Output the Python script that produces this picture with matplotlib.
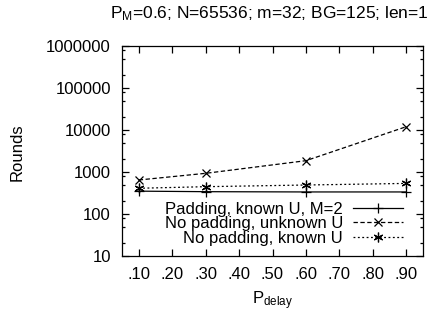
import numpy as np
import matplotlib
matplotlib.use("Agg")
import matplotlib.pyplot as plt
from matplotlib.ticker import FixedLocator, LogLocator, NullFormatter

# data
p_delay = [0.10, 0.30, 0.60, 0.90]
padding_known = [350, 340, 335, 335]
nopad_unknown = [645, 930, 1860, 12000]
nopad_known = [410, 447, 490, 535]

xticks = [0.1, 0.2, 0.3, 0.4, 0.5, 0.6, 0.7, 0.8, 0.9]
xlabels = ['.10', '.20', '.30', '.40', '.50', '.60', '.70', '.80', '.90']
yticks = [10, 100, 1000, 10000, 100000, 1000000]
ylabels = ['10', '100', '1000', '10000', '100000', '1000000']

plt.rcParams['font.family'] = ['Liberation Sans', 'DejaVu Sans']
plt.rcParams['mathtext.fontset'] = 'custom'
plt.rcParams['mathtext.rm'] = 'Liberation Sans'
plt.rcParams['mathtext.it'] = 'Liberation Sans'
fs = 12

fig = plt.figure(figsize=(4.34, 3.11), dpi=100)
ax = fig.add_axes([122/434, 1-256/311, (423-122)/434, (256-46)/311])

ax.plot(p_delay, padding_known, color='black', lw=0.9, marker='+', ms=7, mew=0.9,
        label='Padding, known U, M=2')
ax.plot(p_delay, nopad_unknown, color='black', lw=0.9, dashes=(3.5, 2), marker='x', ms=6, mew=0.9,
        label='No padding, unknown U')
ax.plot(p_delay, nopad_known, color='black', lw=0.9, dashes=(1.5, 2), marker=(6, 2, 0), ms=7, mew=0.9,
        label='No padding, known U')

ax.set_yscale('log')
ax.set_xlim(0.05, 0.95)
ax.set_ylim(10, 1000000)
ax.xaxis.set_major_locator(FixedLocator(xticks))
ax.set_xticklabels(xlabels, fontsize=fs)
ax.yaxis.set_major_locator(FixedLocator(yticks))
ax.set_yticklabels(ylabels, fontsize=fs)
ax.yaxis.set_minor_locator(LogLocator(base=10, subs=[2, 5, 8]))
ax.yaxis.set_minor_formatter(NullFormatter())
ax.tick_params(which='major', direction='in', length=5, width=0.9, top=True, right=True)
ax.tick_params(axis='x', which='major', pad=8)
ax.tick_params(axis='y', which='major', pad=8)
ax.tick_params(which='minor', direction='in', length=2.5, width=0.9, top=True, right=True)
for s in ax.spines.values():
    s.set_linewidth(0.9)

ax.legend(loc='lower right', bbox_to_anchor=(0.934, 0.05), frameon=False, markerfirst=False,
          fontsize=fs, handlelength=3.0, handletextpad=0.6, labelspacing=-0.05, borderpad=0,
          borderaxespad=0)

fig.text(110/434, 1-18/311, r'P$_\mathrm{M}$=0.6; N=65536; m=32; BG=125; len=1', fontsize=12.5,
         ha='left', va='baseline')
fig.text(17.5/434, 1-152/311, 'Rounds', fontsize=fs, rotation=90, ha='center', va='center')
fig.text(273/434, 1-304/311, r'P$_\mathrm{delay}$', fontsize=fs, ha='center', va='baseline')

fig.savefig('out.png', dpi=100)
